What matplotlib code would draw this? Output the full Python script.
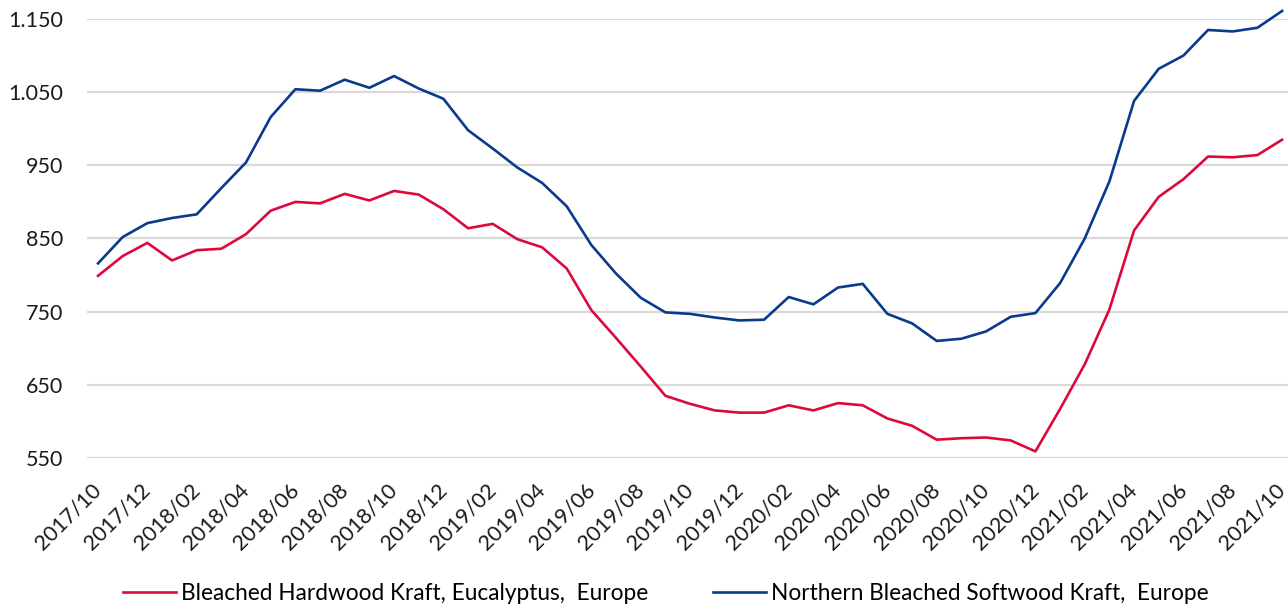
import numpy as np
import pandas as pd
from matplotlib import pyplot as plt

plt.rcParams['font.family'] = ['Lato', 'DejaVu Sans']

months = pd.date_range('2017-10-01', '2021-10-01', freq='MS').strftime('%Y/%m').tolist()

hardwood = [799, 826, 844, 820, 834, 836, 856, 888, 900, 898,
            911, 902, 915, 910, 890, 864, 870, 849, 838, 809,
            752, 714, 675, 635, 624, 615, 612, 612, 622, 615,
            625, 622, 604, 594, 575, 577, 578, 574, 559, 617,
            678, 753, 861, 907, 931, 962, 961, 964, 985]

softwood = [816, 852, 871, 878, 883, 919, 954, 1016, 1054, 1052,
            1067, 1056, 1072, 1055, 1041, 998, 973, 947, 926, 894,
            841, 802, 769, 749, 747, 742, 738, 739, 770, 760,
            783, 788, 747, 734, 710, 713, 723, 743, 748, 789,
            850, 928, 1038, 1082, 1100, 1135, 1133, 1138, 1161]

yticks = [550, 650, 750, 850, 950, 1050, 1150]
ytick_labels = ['550', '650', '750', '850', '950', '1.050', '1.150']

fig = plt.figure(figsize=(12.88, 6.07), dpi=100)
ax = fig.add_axes([0.0675, 0.2455, 0.9325, 0.7232])

x = np.arange(len(months))
ax.plot(x, hardwood, color='#dc0a3c', lw=1.9, clip_on=False,
        label='Bleached Hardwood Kraft, Eucalyptus,  Europe')
ax.plot(x, softwood, color='#0a3a8c', lw=1.9, clip_on=False,
        label='Northern Bleached Softwood Kraft,  Europe')

ax.set_xlim(-0.45, 48.24)
ax.set_ylim(550, 1150)
ax.set_yticks(yticks)
ax.set_yticklabels(ytick_labels, fontsize=15.5)
ax.set_xticks(x[::2])
ax.set_xticklabels(months[::2], rotation=45, ha='right', va='center',
                   rotation_mode='anchor', fontsize=15.5)

ax.grid(axis='y', color='#d9d9d9', lw=1.6)
ax.set_axisbelow(True)
for s in ax.spines.values():
    s.set_visible(False)
ax.tick_params(axis='both', length=0, colors='#1a1a1a')
ax.tick_params(axis='y', pad=17)
ax.tick_params(axis='x', pad=21)

ax.legend(loc='center', bbox_to_anchor=(0.482, -0.308), ncol=2,
          frameon=False, fontsize=16.3, handlelength=2.35, handletextpad=0.22,
          columnspacing=2.85)

plt.savefig('out.png', dpi=100)
